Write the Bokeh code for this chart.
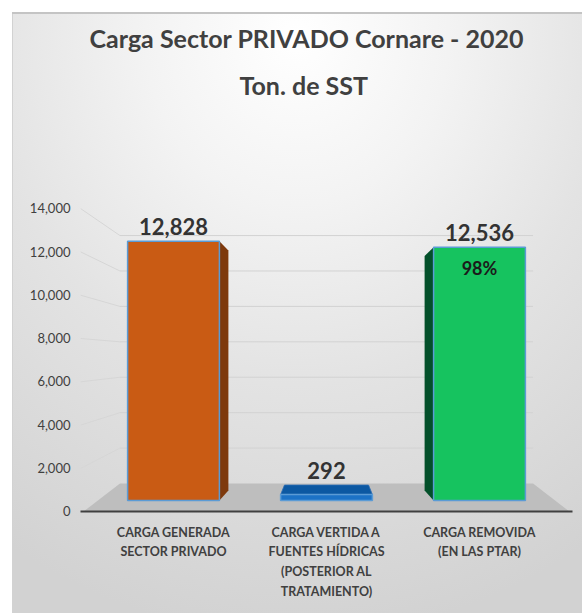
from bokeh.plotting import figure
from bokeh.models import Range1d, LinearAxis, FixedTicker, NumeralTickFormatter, ColumnDataSource, Title
from bokeh.embed import file_html
from bokeh.resources import INLINE

# ---------------- data ----------------
categories = ["CARGA GENERADA\nSECTOR PRIVADO",
              "CARGA VERTIDA A\nFUENTES HÍDRICAS\n(POSTERIOR AL\nTRATAMIENTO)",
              "CARGA REMOVIDA\n(EN LAS PTAR)"]
values = [12828, 292, 12536]
value_labels = ["12,828", "292", "12,536"]
inner_labels = ["", "", "98%"]
y_ticks = [0, 2000, 4000, 6000, 8000, 10000, 12000, 14000]
title_lines = ["Carga Sector PRIVADO Cornare - 2020", "Ton. de SST"]

# ---------------- styles ----------------
front_colors = ["#C95B14", "#1C72C6", "#16C35F"]
side_colors = ["#7E390C", "#0E5AA3", "#03502A"]
top_colors = ["#D9782F", "#0C58A2", "#3FE08A"]
FONT = "Lato"
TXT = "#404040"
W, H = 582, 613
ORIGIN = 0  # page offset of the figure

# layout (page pixels) and pseudo-3D projection constants
FR_L, FR_R, FR_T, FR_B = 80, 572, 120, 511
BAR_BASE, K_BAR = 500, 0.0202          # bar plane
FRONT_BASE, K_FRONT = 511.3, 0.021664   # front edge of walls (axis labels)
BACK_BASE, K_BACK = 483, 0.01771        # back wall
BB_BASE, K_BB = 490, 0.018709           # back face of bars
X0_PAGE, X_STEP = 173, 153
HALF = 0.3
VPX = 1.0
BAR_SHRINK = 0.916
FLOOR_FRONT_HALF, FLOOR_BACK_HALF = 1.59, 1.35
LABEL_GAP_PX = 15
INNER_DROP_PX = 21


def to_primary(page_y):
    return (BAR_BASE - page_y) / K_BAR


def front_y(t):
    return to_primary(FRONT_BASE - K_FRONT * t)


def back_y(t):
    return to_primary(BACK_BASE - K_BACK * t)


def barback_y(t):
    return to_primary(BB_BASE - K_BB * t)


def shrink(x, k):
    return VPX + (x - VPX) * k


xs = list(range(len(values)))
x_start = (FR_L - X0_PAGE) / X_STEP
x_end = (FR_R - X0_PAGE) / X_STEP
front_start = -(FRONT_BASE - FR_B) / K_FRONT
front_end = (FRONT_BASE - FR_T) / K_FRONT

p = figure(width=W, height=H, output_backend="svg", toolbar_location=None,
           x_range=Range1d(x_start, x_end),
           y_range=Range1d(to_primary(FR_B), to_primary(FR_T)),
           y_axis_location=None, tools="", title=None)
p.extra_y_ranges = {"front": Range1d(front_start, front_end)}
p.min_border_left = FR_L - ORIGIN
p.min_border_right = W - (FR_R - ORIGIN)
p.min_border_top = FR_T - ORIGIN
p.min_border_bottom = H - (FR_B - ORIGIN)
p.background_fill_color = None
p.border_fill_color = None
p.outline_line_color = None
p.grid.visible = False
p.styles = {
    "background": (
        "linear-gradient(#c4c4c4,#c4c4c4) 12px 12px / 100% 2px no-repeat, "
        "linear-gradient(#d2d2d2,#d2d2d2) 12px 12px / 1px 100% no-repeat, "
        "radial-gradient(ellipse 95% 100% at 50% 4%, #ffffff 0%, #f3f3f3 28%, #e3e3e3 58%, #d2d2d2 100%) "
        "12px 12px / calc(100% - 12px) calc(100% - 12px) no-repeat, #ffffff"
    )
}

# title: two stacked lines (first added sits closest to the frame)
t2 = Title(text=title_lines[1], align="left", text_font=FONT, text_font_size="25px",
           text_font_style="bold", text_color=TXT, standoff=41, offset=159)
t1 = Title(text=title_lines[0], align="left", text_font=FONT, text_font_size="25px",
           text_font_style="bold", text_color=TXT, standoff=-11, offset=9)
p.add_layout(t2, "above")
p.add_layout(t1, "above")

# floor
p.patch([VPX - FLOOR_FRONT_HALF, VPX - FLOOR_BACK_HALF, VPX + FLOOR_BACK_HALF, VPX + FLOOR_FRONT_HALF],
        [front_y(0), back_y(0), back_y(0), front_y(0)],
        fill_color="#BEBEBE", line_color=None)

# back wall gridlines and left wall lines
grid_t = [t for t in y_ticks if t > 0]
p.segment(x0=[VPX - FLOOR_BACK_HALF] * len(grid_t), x1=[VPX + FLOOR_BACK_HALF] * len(grid_t),
          y0=[back_y(t) for t in grid_t], y1=[back_y(t) for t in grid_t],
          line_color="#d2d2d2", line_width=1)
p.segment(x0=[x_start] * len(grid_t), x1=[VPX - FLOOR_BACK_HALF] * len(grid_t),
          y0=[front_y(t) for t in grid_t], y1=[back_y(t) for t in grid_t],
          line_color="#d6d6d6", line_width=1)

# side faces / top faces
side_xs, side_ys, side_c = [], [], []
top_xs, top_ys, top_c = [], [], []
for c, v, sc, tc in zip(xs, values, side_colors, top_colors):
    if c != VPX:
        fx = c + HALF if c < VPX else c - HALF
        side_xs.append([fx, fx, shrink(fx, BAR_SHRINK), shrink(fx, BAR_SHRINK)])
        side_ys.append([0, v, barback_y(v), barback_y(0)])
        side_c.append(sc)
    if barback_y(v) > v:
        top_xs.append([c - HALF, c + HALF, shrink(c + HALF, BAR_SHRINK), shrink(c - HALF, BAR_SHRINK)])
        top_ys.append([v, v, barback_y(v), barback_y(v)])
        top_c.append(tc)
if side_xs:
    p.patches(side_xs, side_ys, fill_color=side_c, line_color=None)
if top_xs:
    p.patches(top_xs, top_ys, fill_color=top_c, line_color="#2f6fb5", line_width=0.8)

# front faces
src = ColumnDataSource(dict(x=xs, top=values, color=front_colors))
p.vbar(x="x", top="top", bottom=0, width=2 * HALF, fill_color="color", source=src,
       line_color="#5B9BD5", line_width=1.5)

# value labels
lab_y = [max(v, barback_y(v)) + LABEL_GAP_PX / K_BAR for v in values]
p.text(x=xs, y=lab_y, text=value_labels, text_align="center", text_baseline="alphabetic",
       text_font={"value": FONT}, text_font_style="bold", text_font_size="22px", text_color="#333333")
ix = [c for c, s in zip(xs, inner_labels) if s]
iy = [v - INNER_DROP_PX / K_BAR for v, s in zip(values, inner_labels) if s]
it = [s for s in inner_labels if s]
p.text(x=ix, y=iy, text=it, text_align="center", text_baseline="alphabetic",
       text_font={"value": FONT}, text_font_style="bold", text_font_size="18px", text_color="#1b1b1b")

# x axis
xa = p.xaxis[0]
xa.ticker = FixedTicker(ticks=xs)
xa.major_label_overrides = {c: lab for c, lab in zip(xs, categories)}
xa.axis_line_color = TXT
xa.axis_line_width = 2
xa.major_tick_line_color = None
xa.minor_tick_line_color = None
xa.major_tick_out = 0
xa.major_tick_in = 0
xa.minor_tick_out = 0
xa.major_label_standoff = 13
xa.major_label_text_font = FONT
xa.major_label_text_font_style = "bold"
xa.major_label_text_font_size = "12.5px"
xa.major_label_text_color = TXT
xa.major_label_text_line_height = 1.33

# y axis (front plane)
ya = LinearAxis(y_range_name="front", ticker=FixedTicker(ticks=y_ticks),
                formatter=NumeralTickFormatter(format="0,0"))
ya.axis_line_color = None
ya.major_tick_line_color = None
ya.minor_tick_line_color = None
ya.major_tick_out = 0
ya.major_tick_in = 0
ya.minor_tick_out = 0
ya.major_label_standoff = 10
ya.major_label_text_font = FONT
ya.major_label_text_font_size = "13px"
ya.major_label_text_color = TXT
p.add_layout(ya, "left")

open("out.html", "w").write(file_html(p, INLINE))
